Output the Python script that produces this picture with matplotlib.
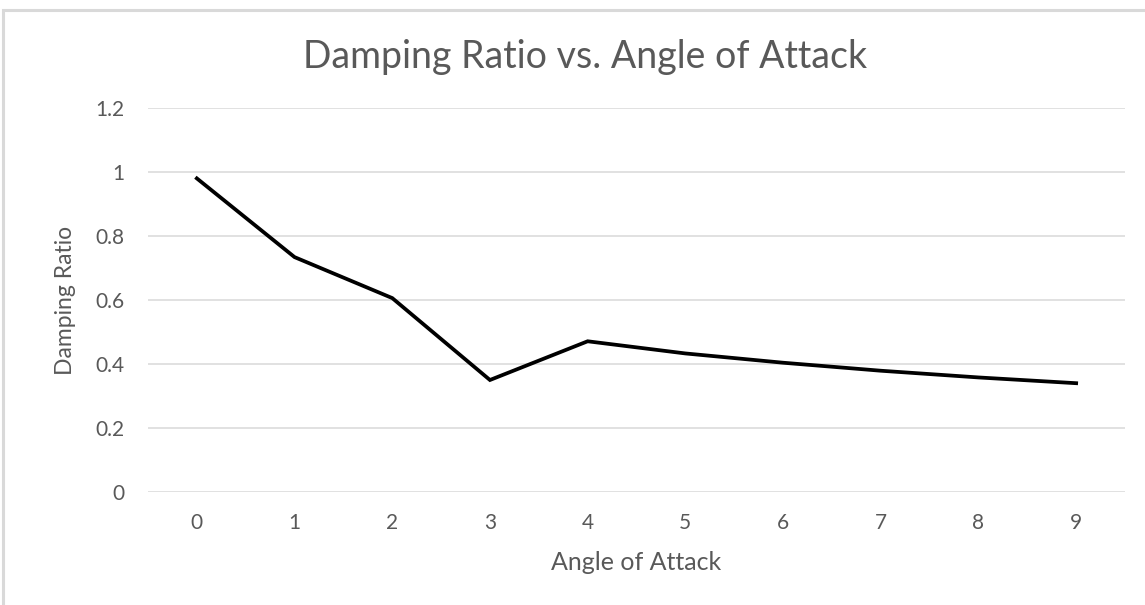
import matplotlib
matplotlib.use("Agg")
import matplotlib.pyplot as plt
from matplotlib.patches import Rectangle

angles = ["0", "1", "2", "3", "4", "5", "6", "7", "8", "9"]
damping_ratio = [0.98, 0.734, 0.606, 0.35, 0.471, 0.433, 0.404, 0.379, 0.358, 0.34]
y_ticks = [0, 0.2, 0.4, 0.6, 0.8, 1, 1.2]
y_tick_labels = ["0", "0.2", "0.4", "0.6", "0.8", "1", "1.2"]

plt.rcParams["font.family"] = ["Lato", "DejaVu Sans"]
text_color = "#595959"
grid_color = "#d9d9d9"

W, H = 1145, 605
fig = plt.figure(figsize=(W / 100, H / 100), dpi=100)
fig.patch.set_facecolor("white")

# chart frame (left and top edges visible)
fig.patches.append(Rectangle((3 / W, -0.1), 1.2, (H - 10) / H + 0.1,
                             transform=fig.transFigure, fill=False,
                             edgecolor=grid_color, linewidth=2.2))

ax = fig.add_axes([148 / W, 1 - 492 / H, 977 / W, (492 - 108) / H])
x = list(range(len(angles)))
ax.plot(x, damping_ratio, color="black", linewidth=2.7, solid_joinstyle="miter")

ax.set_xlim(-0.5, len(angles) - 0.5)
ax.set_ylim(0, 1.2)
ax.set_yticks(y_ticks)
ax.set_yticklabels(y_tick_labels)
ax.set_xticks(x)
ax.set_xticklabels(angles)
ax.tick_params(axis="both", length=0, labelsize=15, labelcolor=text_color)
ax.tick_params(axis="y", pad=17)
ax.tick_params(axis="x", pad=15)
ax.grid(axis="y", color=grid_color, linewidth=1.1)
ax.set_axisbelow(True)
for s in ax.spines.values():
    s.set_visible(False)

ax.set_xlabel("Angle of Attack", fontsize=18, color=text_color, labelpad=13)
ax.set_ylabel("Damping Ratio", fontsize=16.5, color=text_color, labelpad=14)

fig.text(585 / W, 1 - 57 / H, "Damping Ratio vs. Angle of Attack",
         ha="center", va="center", fontsize=27, color=text_color)

fig.savefig("out.png", dpi=100)
